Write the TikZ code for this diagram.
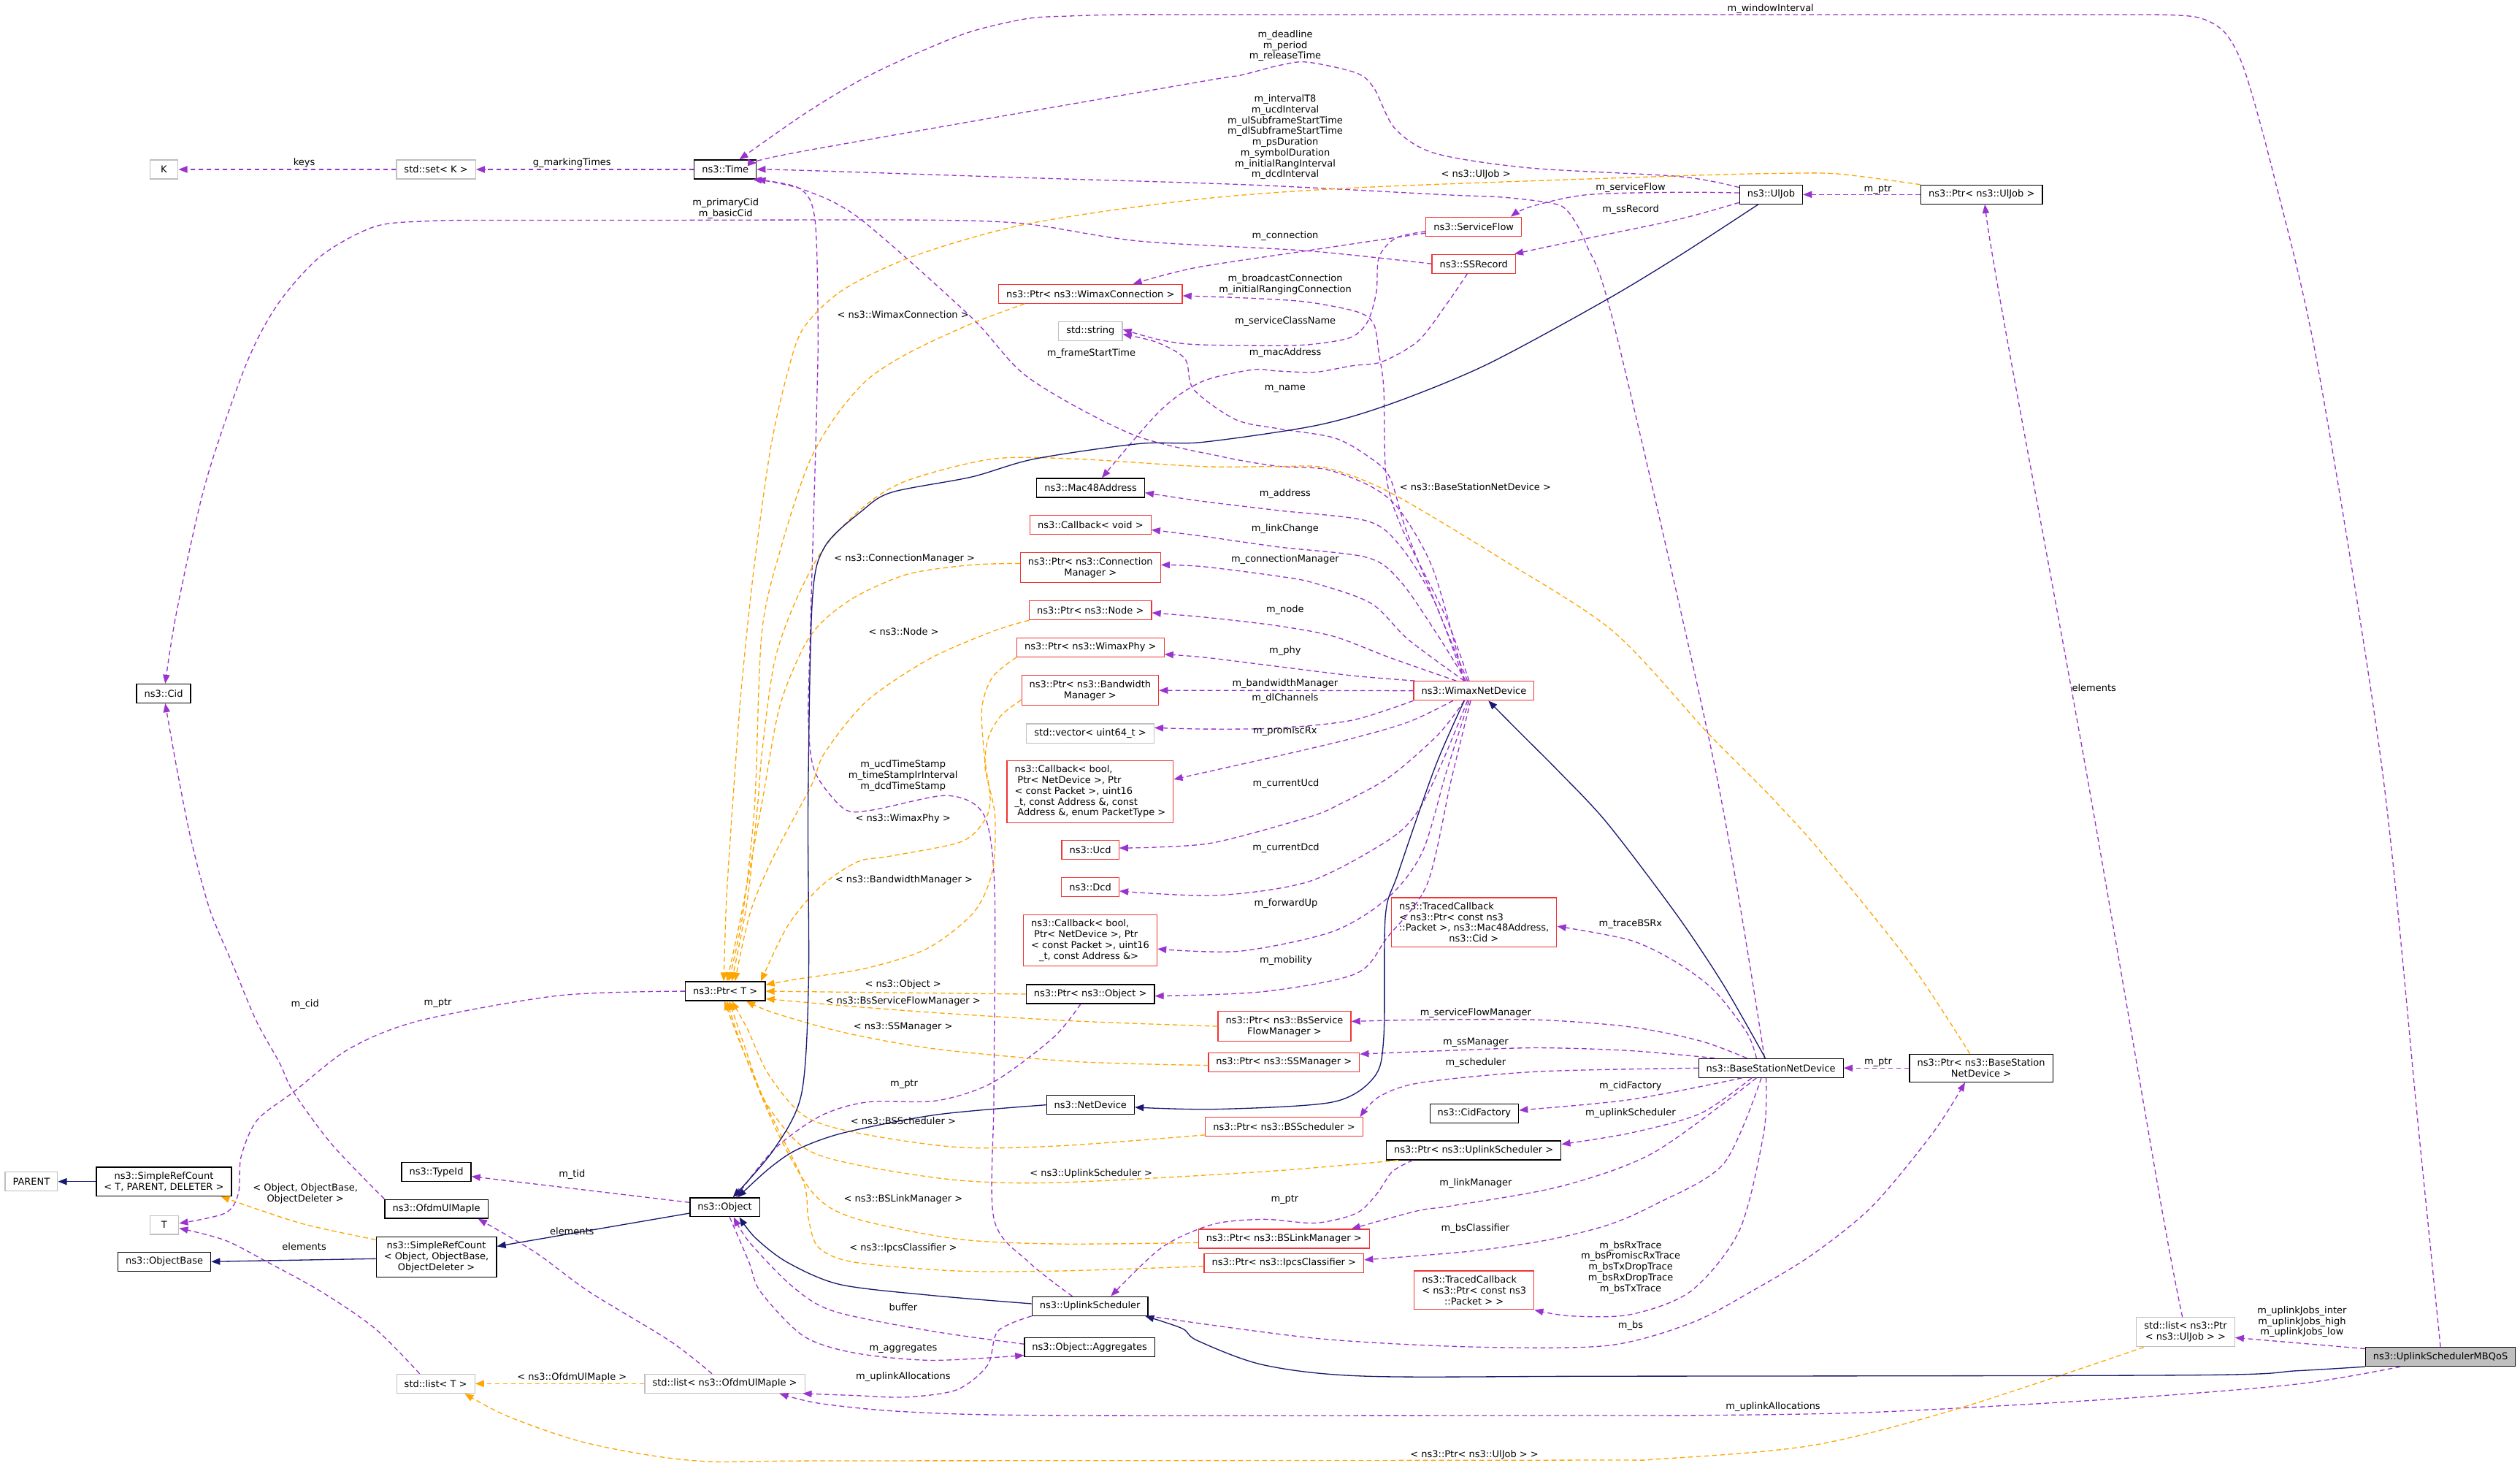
\documentclass[tikz,border=0pt]{standalone}
\usepackage{fontspec}
\setmainfont{DejaVu Sans}
\usetikzlibrary{arrows.meta}

\definecolor{edgepurple}{HTML}{9A32CD}
\definecolor{edgeorange}{HTML}{FFA500}
\definecolor{edgenavy}{HTML}{191970}
\definecolor{boxred}{HTML}{F23333}
\definecolor{boxgray}{HTML}{BFBFBF}

\newcommand{\dxfont}{\fontsize{5.9}{6.7}\selectfont}

\tikzset{
  cls/.style={draw=black, line width=0.55pt, fill=white, rectangle, inner xsep=4.8pt, inner ysep=3pt, minimum height=11.8pt, align=center, font=\dxfont},
  clsred/.style={cls, draw=boxred},
  clsgray/.style={cls, draw=boxgray},
  clsmain/.style={cls, fill=boxgray},
  edgelabel/.style={inner sep=0pt, align=center, font=\dxfont},
  memberedge/.style={draw=edgepurple, line width=0.6pt, dash pattern=on 3pt off 2pt, -{Triangle[length=5.5pt,width=4.2pt]}},
  tmpledge/.style={draw=edgeorange, line width=0.6pt, dash pattern=on 3pt off 2pt, -{Triangle[length=5.5pt,width=4.2pt]}},
  inheritedge/.style={draw=edgenavy, line width=0.6pt, -{Triangle[length=5.5pt,width=4.2pt]}},
}

\begin{document}
\begin{tikzpicture}[x=1pt,y=-1pt]
	\useasboundingbox (0,0) rectangle (1568,910);

	% Class nodes
	\node[clsgray, minimum width=17.6pt] (k) at (102,105.4) {K};
	\node[clsgray] (stdsetk) at (271.3,105.4) {std::set< K >};
	\node[cls] (time) at (451.3,105.4) {ns3::Time};
	\node[cls] (uljob) at (1102,121) {ns3::UlJob};
	\node[cls] (ptruljob) at (1233,121) {ns3::Ptr< ns3::UlJob >};
	\node[clsred] (serviceflow) at (917,141) {ns3::ServiceFlow};
	\node[clsred] (ssrecord) at (917,164.1) {ns3::SSRecord};
	\node[clsred] (ptrwimaxconn) at (678.5,182.8) {ns3::Ptr< ns3::WimaxConnection >};
	\node[clsgray] (stdstring) at (678.5,205.9) {std::string};
	\node[cls] (mac48) at (678.6,303.5) {ns3::Mac48Address};
	\node[clsred] (cbvoid) at (678.5,326.6) {ns3::Callback< void >};
	\node[clsred] (ptrconnmgr) at (678.5,353.1) {ns3::Ptr< ns3::Connection\\Manager >};
	\node[clsred] (ptrnode) at (678.5,379.7) {ns3::Ptr< ns3::Node >};
	\node[clsred] (ptrwimaxphy) at (678.5,402.7) {ns3::Ptr< ns3::WimaxPhy >};
	\node[clsred] (ptrbwmgr) at (678.3,429.4) {ns3::Ptr< ns3::Bandwidth\\Manager >};
	\node[clsgray] (stdvector) at (678.4,456.2) {std::vector< uint64\_t >};
	\node[clsred, align=left] (cbpromisc) at (678.3,492.4) {ns3::Callback< bool,\\\hspace*{1.8pt}Ptr< NetDevice >, Ptr\\< const Packet >, uint16\\\_t, const Address \&, const\\\hspace*{1.8pt}Address \&, enum PacketType >};
	\node[clsred] (ucd) at (678.4,528.8) {ns3::Ucd};
	\node[clsred] (dcd) at (678.4,551.7) {ns3::Dcd};
	\node[clsred, align=left] (cbforward) at (678.4,585) {ns3::Callback< bool,\\\hspace*{1.8pt}Ptr< NetDevice >, Ptr\\< const Packet >, uint16\\\hspace*{4.9pt}\_t, const Address \&>};
	\node[cls] (ptrobject) at (678.4,618.4) {ns3::Ptr< ns3::Object >};
	\node[clsred] (ptrbssfm) at (799.2,638.4) {ns3::Ptr< ns3::BsService\\FlowManager >};
	\node[clsred] (ptrssmgr) at (798.9,660.7) {ns3::Ptr< ns3::SSManager >};
	\node[cls] (netdevice) at (678.5,687.3) {ns3::NetDevice};
	\node[clsred] (ptrbssched) at (799,701) {ns3::Ptr< ns3::BSScheduler >};
	\node[clsred] (ptrbslink) at (798.9,770.6) {ns3::Ptr< ns3::BSLinkManager >};
	\node[clsred] (ptripcs) at (798.9,785.7) {ns3::Ptr< ns3::IpcsClassifier >};
	\node[cls] (ulsched) at (678.2,812.5) {ns3::UplinkScheduler};
	\node[cls] (aggregates) at (678,838.1) {ns3::Object::Aggregates};
	\node[clsred] (wimaxnd) at (917.1,429.7) {ns3::WimaxNetDevice};
	\node[clsred, align=left] (tracedbsrx) at (917.2,573.7) {ns3::TracedCallback\\< ns3::Ptr< const ns3\\::Packet >, ns3::Mac48Address,\\\hspace*{31pt}ns3::Cid >};
	\node[cls] (bsnd) at (1101.9,664.4) {ns3::BaseStationNetDevice};
	\node[cls] (ptrbsnd) at (1232.7,664.4) {ns3::Ptr< ns3::BaseStation\\NetDevice >};
	\node[cls] (cidfactory) at (917.3,692.5) {ns3::CidFactory};
	\node[cls] (ptrulsched) at (917,715.6) {ns3::Ptr< ns3::UplinkScheduler >};
	\node[clsred, align=left] (tracedpkt) at (917.2,802.6) {ns3::TracedCallback\\< ns3::Ptr< const ns3\\\hspace*{14pt}::Packet > >};
	\node[clsgray] (listptruljob) at (1359.9,828.6) {std::list< ns3::Ptr\\< ns3::UlJob > >};
	\node[clsmain] (mbqos) at (1518.5,844) {ns3::UplinkSchedulerMBQoS};
	\node[cls] (ptrt) at (451.3,616.6) {ns3::Ptr< T >};
	\node[cls] (cid) at (101.8,431.4) {ns3::Cid};
	\node[cls] (srcparent) at (102,735) {ns3::SimpleRefCount\\< T, PARENT, DELETER >};
	\node[clsgray] (parent) at (19.5,735) {PARENT};
	\node[clsgray, minimum width=18pt] (tnode) at (102.2,762) {T};
	\node[cls] (objectbase) at (102.3,784.8) {ns3::ObjectBase};
	\node[cls] (typeid) at (271.5,729) {ns3::TypeId};
	\node[cls] (ofdmulmapie) at (271.5,752) {ns3::OfdmUlMapIe};
	\node[cls] (srcobject) at (271.5,782) {ns3::SimpleRefCount\\< Object, ObjectBase,\\ObjectDeleter >};
	\node[cls] (object) at (451,751) {ns3::Object};
	\node[clsgray] (listt) at (271.1,860.7) {std::list< T >};
	\node[clsgray] (listofdm) at (451,860.7) {std::list< ns3::OfdmUlMapIe >};

	% Member edges
	\draw[memberedge] (stdsetk) -- (k);
	\draw[memberedge] (time) -- (stdsetk);
	\draw[memberedge] plot[smooth] coordinates {(mbqos.north) (1505,704) (1482,477) (1442,227) (1415,110) (1397,45) (1385,21) (1370,11.5) (1350,9.3) (1310,9.1) (1250,9.1) (1100,9.1) (900,9.1) (760,9.1) (700,9.1) (665,10) (639,11.6) (604,19.7) (570,33.3) (535,50) (500,71.2) ([xshift=8.7pt]time.north)};
	\draw[memberedge] plot[smooth] coordinates {([yshift=4.4pt]uljob.west) (1045,109.8) (952,104.5) (893,95.4) (868,80) (855,55) (844,45.4) (813,38.6) (795,40.9) (771,47) (743,51.5) (500,94) ([yshift=4pt]time.east)};
	\draw[memberedge] plot[smooth] coordinates {([xshift=-4pt]bsnd.north) (1067,477) (1005,205) (987,152) (976,132) (966,126.5) (935,122.7) (900,121.2) (778,115) (639,110.6) (500,106) (time.east)};
	\draw[memberedge] plot[smooth] coordinates {([xshift=-6pt]wimaxnd.north) (892,355) (871,317.5) (853,302.6) (825,292) (795,290) (760,284) (704,270) (640,235) (604,197) (535,136) (500,118) (time.south east)};
	\draw[memberedge] plot[smooth] coordinates {([xshift=-11pt]ulsched.north) (640,785) (618.4,758) (618.4,682) (619,559) (615,515) (606,500) (586,495) (542,504) (525,503) (507,480) (503,449) (504,400) (506,330) (508,260) (509,205) (507,136) (497,117) ([xshift=-2.5pt]time.south east)};
	\draw[memberedge] plot[smooth] coordinates {([yshift=1pt]uljob.west) (1045,119.6) (987,121.2) (952,128.7) ([xshift=23pt]serviceflow.north)};
	\draw[memberedge] plot[smooth] coordinates {([yshift=-5pt]uljob.west) (1045,136.3) (987,148.4) ([xshift=-1pt]ssrecord.north east)};
	\draw[memberedge] (ptruljob) -- (uljob);
	\draw[memberedge] plot[smooth] coordinates {(ssrecord.west) (813,156) (709,150) (639,139.3) (587,137) (500,136.8) (400,137) (300,137) (266.6,137.5) (233.3,140.9) (200,159) (173,189) (153,227) (128,300) (110,380) ([xshift=1pt]cid.north)};
	\draw[memberedge] plot[smooth] coordinates {([yshift=-4pt]serviceflow.west) (813,156) (743.4,166.6) ([xshift=26.5pt]ptrwimaxconn.north)};
	\draw[memberedge] plot[smooth] coordinates {([yshift=-3pt]serviceflow.west) (868.6,148) (858,160) (856.4,181.7) (851,200) (840.7,209.8) (818,214) (795.5,215) (743.4,214.3) (720,211) ([yshift=1pt]stdstring.east)};
	\draw[memberedge] plot[smooth] coordinates {([xshift=-3pt]wimaxnd.north) (899.4,383.4) (871.6,327) (862.4,295) (861,242) (858,220) (854.7,201.4) (844.2,193.9) (812.9,187.8) (778,185.5) ([yshift=-1.2pt]ptrwimaxconn.east)};
	\draw[memberedge] plot[smooth] coordinates {([xshift=-4pt]wimaxnd.north) (895,380) (875,330) (864.6,296.7) (850.7,283.5) (829.9,272.3) (795.1,266.6) (768.8,261) (742.7,242.2) (737.4,223.3) (720,213) ([yshift=-2pt]stdstring.east)};
	\draw[memberedge] plot[smooth] coordinates {([xshift=-4pt]ssrecord.south) (900,189.3) (882.5,212) (860,225) (841.5,227.5) (818.3,231.5) (795,230.8) (779.2,230) (747.9,237.4) (721.9,255.4) ([xshift=7pt]mac48.north)};
	\draw[memberedge] plot[smooth] coordinates {([xshift=-6pt]wimaxnd.north) (892.5,374) (871.6,340.1) (850.7,324.1) (795.1,317.5) (747.9,311.8) ([yshift=-3pt]mac48.east)};
	\draw[memberedge] plot[smooth] coordinates {([xshift=-5pt]wimaxnd.north) (895,395.8) (871.6,361.9) (850.7,346.8) (795.1,340.2) (747.9,333.5) ([yshift=-3pt]cbvoid.east)};
	\draw[memberedge] plot[smooth] coordinates {([xshift=-6pt]wimaxnd.north) (876.3,397.9) (853.1,375.3) (817.8,362.7) (795.1,358.4) (747.9,352.4) ([yshift=1.7pt]ptrconnmgr.east)};
	\draw[memberedge] plot[smooth] coordinates {([xshift=-11pt]wimaxnd.north) (864.6,409) (829.9,395.9) (795.1,389.3) (750,384) ([yshift=-1.5pt]ptrnode.east)};
	\draw[memberedge] plot[smooth] coordinates {([xshift=1pt]wimaxnd.north west) (841.5,420.3) (795.1,414.6) (750,409) ([yshift=-4.3pt]ptrwimaxphy.east)};
	\draw[memberedge] (wimaxnd) -- (ptrbwmgr);
	\draw[memberedge] plot[smooth] coordinates {(wimaxnd.south west) (841.5,448) (795.1,452.9) (750,453.5) ([yshift=3.5pt]stdvector.east)};
	\draw[memberedge] plot[smooth] coordinates {([xshift=-13pt]wimaxnd.south) (876.7,449) (841.5,459.3) (795.1,470.3) (763,477.5) ([yshift=7.6pt]cbpromisc.east)};
	\draw[memberedge] plot[smooth] coordinates {([xshift=-6pt]wimaxnd.south) (894.8,457) (864.6,483.3) (834.5,499.8) (814.6,508.2) (756.6,523.9) (720,527) ([yshift=1.3pt]ucd.east)};
	\draw[memberedge] plot[smooth] coordinates {([xshift=-4pt]wimaxnd.south) (897,475) (882,505) (863.3,523) (814.6,548.3) (756.6,557) ([yshift=-2.6pt]dcd.east)};
	\draw[memberedge] plot[smooth] coordinates {([xshift=-3pt]wimaxnd.south) (900,480) (885,530) (863.3,558.7) (829.1,579.5) (771.2,591.7) ([yshift=-5.3pt]cbforward.east)};
	\draw[memberedge] plot[smooth] coordinates {([xshift=-2pt]wimaxnd.south) (903,485) (888,550) (863.3,583) (843.6,605.7) (785.6,616.9) ([yshift=-1.2pt]ptrobject.east)};
	\draw[memberedge] plot[smooth] coordinates {([xshift=-6pt]ptrobject.south) (655.2,645.6) (617.6,673.4) (582.8,684.7) (539.3,685.6) (510.3,694.3) (481.4,715.2) ([xshift=7pt]object.north)};
	\draw[memberedge] ([yshift=3pt]object.west) -- ([yshift=-2.8pt]typeid.east);
	\draw[memberedge] plot[smooth] coordinates {([yshift=2pt]aggregates.west) (579.5,828) (518.9,815.7) (493.2,800.4) (466.5,773) ([xshift=5.5pt]object.south)};
	\draw[memberedge] plot[smooth] coordinates {([xshift=3pt]object.south) (466,785) (473.2,803.5) (499.8,831) (531.7,841.6) (579.5,846.2) ([yshift=-5pt]aggregates.west)};
	\draw[memberedge] plot[smooth] coordinates {(ulsched.south west) (620.9,828) (614.5,849.2) (595.4,864.5) (563.6,869.1) (530,868) ([xshift=-1.5pt]listofdm.south east)};
	\draw[memberedge] plot[smooth] coordinates {([xshift=-25pt]mbqos.south) (1429.3,861) (1316.2,870.2) (1165.4,878.5) (1052.3,880.5) (999.6,880.5) (659.2,880.5) (563.6,878.2) (510,873) ([xshift=34pt]listofdm.south)};
	\draw[memberedge] ([yshift=5pt]mbqos.west) -- ([yshift=-3.5pt]listptruljob.east);
	\draw[memberedge] plot[smooth] coordinates {([xshift=-2pt]listptruljob.north) (1344.7,749.7) (1297.6,477) (1251.8,227.2) (1238.5,151.5) ([xshift=2pt]ptruljob.south)};
	\draw[memberedge] (ptrbsnd) -- (bsnd);
	\draw[memberedge] plot[smooth] coordinates {([xshift=-9pt]bsnd.north) (1086.9,642.3) (1066.6,616.2) (1043.4,598.8) (1014.5,584.9) ([yshift=-2.5pt]tracedbsrx.east)};
	\draw[memberedge] plot[smooth] coordinates {([xshift=-15pt]bsnd.north) (1057.9,647.5) (1014.5,638.8) (956.5,634.4) (884,634.4) ([yshift=3pt]ptrbssfm.east)};
	\draw[memberedge] plot[smooth] coordinates {([xshift=-35pt]bsnd.north) (1014.5,653.6) (956.5,651.8) (898.6,653.6) ([yshift=5pt]ptrssmgr.east)};
	\draw[memberedge] plot[smooth] coordinates {(bsnd.west) (956.5,666.6) (884,673.5) (858,682.3) ([xshift=-2pt]ptrbssched.north east)};
	\draw[memberedge] plot[smooth] coordinates {([xshift=-18pt]bsnd.south) (1014.5,684) ([yshift=1.9pt]cidfactory.east)};
	\draw[memberedge] plot[smooth] coordinates {([xshift=-12pt]bsnd.south) (1057.9,692.7) (1014.5,704.8) ([yshift=3.8pt]ptrulsched.east)};
	\draw[memberedge] plot[smooth] coordinates {([xshift=-9pt]bsnd.south) (1028.9,717) (971,738) (904,750) (882,753.2) ([xshift=42pt]ptrbslink.north)};
	\draw[memberedge] plot[smooth] coordinates {([xshift=-6pt]bsnd.south) (1072.4,724) (1028.9,749.7) (999.6,762.3) (962,771.5) (914.2,778.4) ([yshift=2pt]ptripcs.east)};
	\draw[memberedge] plot[smooth] coordinates {([xshift=-3pt]bsnd.south) (1097.5,704.3) (1082.4,765.1) (1052.3,803) (1014.6,817.7) (976.9,818.6) (tracedpkt.south east)};
	\draw[memberedge] plot[smooth] coordinates {(ulsched.south east) (818.5,832.5) (914.2,837.8) (999.6,837.1) (1052.2,823) (1090,803.2) (1127.7,780.4) (1165.4,749.9) (1203,704.3) ([xshift=-10pt]ptrbsnd.south)};
	\draw[memberedge] plot[smooth] coordinates {([xshift=-38pt]ptrulsched.south) (866.3,728.8) (856.8,742.5) (844,754.7) (818.5,760.8) (786.7,758.5) (754.8,761.6) (722.9,776) ([xshift=13pt]ulsched.north)};
	\draw[memberedge] plot[smooth] coordinates {(ptrt.west) (347.7,619.3) (260.8,635) (217.3,652.4) (182.6,679.3) (160,696.8) (150,719.6) (148.3,742.5) (140,754.7) ([yshift=1pt]tnode.east)};
	\draw[memberedge] plot[smooth] coordinates {(ofdmulmapie.north west) (206.6,712) (182.6,679.3) (173.9,661.1) (159.4,634.9) (144.9,600.2) (130.4,565.4) (118.8,522) (110.1,478.5) ([xshift=1pt]cid.south)};
	\draw[memberedge] plot[smooth] coordinates {([xshift=-10pt]listt.north) (233.3,826.4) (199.9,803.5) (166.6,785.2) (140,771.5) ([yshift=-2pt]tnode.east)};
	\draw[memberedge] plot[smooth] coordinates {([xshift=-8pt]listofdm.north) (416.6,834) (366.5,803.5) (333.2,779.1) ([xshift=26pt]ofdmulmapie.south)};

	% Template edges
	\draw[tmpledge] plot[smooth] coordinates {([yshift=-2pt]srcobject.north west) (186.6,760.8) ([xshift=-7pt]srcparent.south east)};
	\draw[tmpledge] (listofdm) -- (listt);
	\draw[tmpledge] plot[smooth] coordinates {([xshift=-26pt]listptruljob.south) (1218.2,876.3) (1127.7,899.1) (1033.4,907.5) (976.9,908.3) (522.5,908.7) (433.2,908.7) (366.5,898) (316.6,881.3) ([xshift=18pt]listt.south)};
	\draw[tmpledge] plot[smooth] coordinates {(ptruljob.north west) (1145,108.3) (1111.7,107.8) (1045,109.4) (847.7,116.6) (743.4,124.2) (639.1,139.3) (569.5,159) (525,180) (500,204) (489.8,232.7) (479.3,279.8) (468.9,355.2) (461.1,430.5) (455.9,499.8) (452,560) ([xshift=-1pt]ptrt.north)};
	\draw[tmpledge] plot[smooth] coordinates {([xshift=-41pt]ptrwimaxconn.south) (604.3,201.4) (565.4,219.5) (539.3,236.5) (518.5,261) (502.8,289.2) (487.2,336.3) (474.1,392.8) (469.6,499.8) (462,570) ([xshift=2pt]ptrt.north)};
	\draw[tmpledge] plot[smooth] coordinates {([xshift=-7pt]ptrbsnd.north) (1188.3,598.8) (1133,530) (1105.8,499.8) (1090.5,484) (1061.7,455) (1003.8,392.8) (934.2,347.6) (864.6,306.2) (825.2,291.1) (795.1,290.2) (747.9,290.2) (669.7,285.5) (617.6,285.5) (565.4,298.6) (539.3,313.7) (513.2,340.1) (495,374) (481.9,411.6) (474.1,468.2) (471.5,499.8) (465,560) ([xshift=4pt]ptrt.north)};
	\draw[tmpledge] plot[smooth] coordinates {([yshift=2.6pt]ptrconnmgr.west) (604.5,351.4) (565.4,357) (534.1,370.2) (513.2,385.3) (500.2,402.2) (485,440) (474,500) (461,570) ([xshift=1pt]ptrt.north)};
	\draw[tmpledge] plot[smooth] coordinates {(ptrnode.south west) (617.6,392.8) (578.4,409.8) (539.3,436.1) (513.2,468.2) (504.6,489.1) (481.4,532.6) (466.9,567.4) ([xshift=6pt]ptrt.north)};
	\draw[tmpledge] plot[smooth] coordinates {(ptrwimaxphy.south west) (617.6,421.1) (611,439.9) (612.3,468.2) (616.1,497.8) (611.7,511.7) (597.3,523.9) (553.8,532.6) (533.5,536.1) (510.3,551.7) (490,576.1) ([xshift=-3pt]ptrt.north east)};
	\draw[tmpledge] plot[smooth] coordinates {([yshift=-6pt]ptrbwmgr.west) (622.8,445.2) (615,458.8) (613,478) (619,506.5) (617.6,541.3) (606,567.4) (577,590) (539.3,602.2) (495.8,609.1) ([yshift=4pt]ptrt.east)};
	\draw[tmpledge] (ptrobject.west) -- (ptrt.east);
	\draw[tmpledge] plot[smooth] coordinates {(ptrbssfm.west) (669.7,635.2) (582.8,630) (524.8,625.6) ([yshift=-4.7pt]ptrt.east)};
	\draw[tmpledge] plot[smooth] coordinates {([yshift=-2pt]ptrssmgr.west) (669.7,660.4) (582.8,652.6) (524.8,642.2) (481.4,630) ([xshift=13pt]ptrt.south)};
	\draw[tmpledge] plot[smooth] coordinates {([yshift=-5pt]ptrbssched.west) (659.2,712.8) (595.4,713.6) (531.7,704.4) (499.8,693.7) (478,668) (465,640) ([xshift=4pt]ptrt.south)};
	\draw[tmpledge] plot[smooth] coordinates {([xshift=-47pt]ptrulsched.south) (786.7,728.8) (659.2,735.6) (595.4,734.1) (531.7,724.3) (499.8,713.6) (476,685) (463,650) ([xshift=2.5pt]ptrt.south)};
	\draw[tmpledge] plot[smooth] coordinates {([yshift=-2.4pt]ptrbslink.west) (659.2,773.8) (595.4,770.7) (531.7,757.8) (506.2,742.5) (484,705) (463,655) ([xshift=1pt]ptrt.south)};
	\draw[tmpledge] plot[smooth] coordinates {([yshift=-2pt]ptripcs.west) (659.2,790.6) (595.4,790.6) (531.7,785.2) (509.3,776) (503,757.8) (499.8,734.9) (478,690) (461,650) ([xshift=-0.5pt]ptrt.south)};

	% Inheritance edges
	\draw[inheritedge] plot[smooth] coordinates {(netdevice.west) (582.8,693.4) (524.8,704.7) (495.8,715.2) (478.4,727) ([xshift=8pt]object.north)};
	\draw[inheritedge] plot[smooth] coordinates {([xshift=-8pt]uljob.south) (1045,159) (997.2,187.8) (924.2,227.2) (864.6,251.5) (818.3,264.8) (747.9,275.1) (708.8,276) (643.6,285.5) (604.5,296.7) (555,306.2) (536.7,317.5) (513.2,340.1) (505.4,374) (502.8,499.8) (503.1,610.8) (498.7,680.4) (481.4,715.2) ([xshift=5pt]object.north)};
	\draw[inheritedge] plot[smooth] coordinates {([yshift=1.5pt]ulsched.west) (579.5,805.8) (522.5,799) (489.8,785.2) (470,770) ([xshift=9pt]object.south)};
	\draw[inheritedge] plot[smooth] coordinates {(mbqos.south west) (1429.3,852.7) (1365.2,855.4) (999.6,856.1) (850.4,856.1) (786.7,849.2) (745.2,834) (735.6,826.4) ([xshift=-2pt]ulsched.south east)};
	\draw[inheritedge] plot[smooth] coordinates {([xshift=-6pt]wimaxnd.south) (893,477) (870,543) (862,570) (861,645) (855,670) (829,685.6) (756.6,690) ([yshift=-1.5pt]netdevice.east)};
	\draw[inheritedge] plot[smooth] coordinates {([xshift=-3.5pt]bsnd.north) (1072.4,612.7) (1043.4,569.2) (1000,512) (970,480) (945,455) ([xshift=9pt]wimaxnd.south)};
	\draw[inheritedge] ([yshift=-3.7pt]object.west) -- ([yshift=6.7pt]srcobject.east);
	\draw[inheritedge] ([yshift=-1pt]srcobject.west) -- (objectbase.east);
	\draw[inheritedge] (srcparent.west) -- (parent.east);

	% Edge labels
	\node[edgelabel] (lkeys) at (189.3,101.5) {keys};
	\node[edgelabel] (lmarking) at (355.9,101.5) {g\_markingTimes};
	\node[edgelabel] (lwindow) at (1101.7,5.3) {m\_windowInterval};
	\node[edgelabel] (ldeadline) at (799.7,28.5) {m\_deadline\\m\_period\\m\_releaseTime};
	\node[edgelabel] (linterval) at (799.7,85.4) {m\_intervalT8\\m\_ucdInterval\\m\_ulSubframeStartTime\\m\_dlSubframeStartTime\\m\_psDuration\\m\_symbolDuration\\m\_initialRangInterval\\m\_dcdInterval};
	\node[edgelabel] (tuljob) at (918.3,108.7) {< ns3::UlJob >};
	\node[edgelabel] (lserviceflow) at (1014.6,116.6) {m\_serviceFlow};
	\node[edgelabel] (lssrecord) at (1014.6,130.6) {m\_ssRecord};
	\node[edgelabel] (lptruljob) at (1168.4,117.8) {m\_ptr};
	\node[edgelabel] (lcidpair) at (451.5,129.8) {m\_primaryCid\\m\_basicCid};
	\node[edgelabel] (lconnection) at (799.7,146.6) {m\_connection};
	\node[edgelabel] (lbroadcast) at (799.7,177) {m\_broadcastConnection\\m\_initialRangingConnection};
	\node[edgelabel] (twimaxconn) at (561.9,195.7) {< ns3::WimaxConnection >};
	\node[edgelabel] (lclassname) at (799.7,200) {m\_serviceClassName};
	\node[edgelabel] (lframestart) at (679,220) {m\_frameStartTime};
	\node[edgelabel] (lmacaddr) at (799.7,219.6) {m\_macAddress};
	\node[edgelabel] (lname) at (799.6,242.1) {m\_name};
	\node[edgelabel] (tbsnd) at (918,302.8) {< ns3::BaseStationNetDevice >};
	\node[edgelabel] (laddress) at (799.6,307.2) {m\_address};
	\node[edgelabel] (llinkchange) at (799.6,328.8) {m\_linkChange};
	\node[edgelabel] (tconnmgr) at (562.8,347.6) {< ns3::ConnectionManager >};
	\node[edgelabel] (lconnmgr) at (799.6,348.2) {m\_connectionManager};
	\node[edgelabel] (lnode) at (799.6,379.3) {m\_node};
	\node[edgelabel] (tnodetmpl) at (562.3,392.8) {< ns3::Node >};
	\node[edgelabel] (lphy) at (799.6,405.1) {m\_phy};
	\node[edgelabel] (lbwmgr) at (799.6,425.4) {m\_bandwidthManager};
	\node[edgelabel] (ldlchannels) at (799.6,434.6) {m\_dlChannels};
	\node[edgelabel] (lpromisc) at (799.6,455) {m\_promiscRx};
	\node[edgelabel] (lucd) at (800.1,487.4) {m\_currentUcd};
	\node[edgelabel] (ltimestamp) at (561.9,482.6) {m\_ucdTimeStamp\\m\_timeStampIrInterval\\m\_dcdTimeStamp};
	\node[edgelabel] (twimaxphy) at (561.9,509.2) {< ns3::WimaxPhy >};
	\node[edgelabel] (ldcd) at (800.1,527.4) {m\_currentDcd};
	\node[edgelabel] (tbwmgr) at (562.5,547.4) {< ns3::BandwidthManager >};
	\node[edgelabel] (lforward) at (800.1,562.2) {m\_forwardUp};
	\node[edgelabel] (lmobility) at (800.1,597.3) {m\_mobility};
	\node[edgelabel] (tobject) at (561.9,612.6) {< ns3::Object >};
	\node[edgelabel] (tbssfm) at (561.9,623) {< ns3::BsServiceFlowManager >};
	\node[edgelabel] (tssmgr) at (561.9,639) {< ns3::SSManager >};
	\node[edgelabel] (lptrobject) at (562.5,674.3) {m\_ptr};
	\node[edgelabel] (ltracebsrx) at (1014.5,574.8) {m\_traceBSRx};
	\node[edgelabel] (lsfmgr) at (918.2,630.1) {m\_serviceFlowManager};
	\node[edgelabel] (lssmgr) at (918.2,648.4) {m\_ssManager};
	\node[edgelabel] (lscheduler) at (918.2,661) {m\_scheduler};
	\node[edgelabel] (lptrbsnd) at (1168.6,661) {m\_ptr};
	\node[edgelabel] (lcidfactory) at (1014.5,675.8) {m\_cidFactory};
	\node[edgelabel] (lulsched) at (1014.5,692.7) {m\_uplinkScheduler};
	\node[edgelabel] (tbssched) at (562,697.3) {< ns3::BSScheduler >};
	\node[edgelabel] (tulsched) at (678.9,730.3) {< ns3::UplinkScheduler >};
	\node[edgelabel] (llinkmgr) at (918.2,736.2) {m\_linkManager};
	\node[edgelabel] (lptrulsched) at (799.4,746.3) {m\_ptr};
	\node[edgelabel] (tbslink) at (562,745.9) {< ns3::BSLinkManager >};
	\node[edgelabel] (lclassifier) at (918,764.2) {m\_bsClassifier};
	\node[edgelabel] (tipcs) at (562,776.4) {< ns3::IpcsClassifier >};
	\node[edgelabel] (ltraces) at (1014.6,788.4) {m\_bsRxTrace\\m\_bsPromiscRxTrace\\m\_bsTxDropTrace\\m\_bsRxDropTrace\\m\_bsTxTrace};
	\node[edgelabel] (lbuffer) at (562,813.1) {buffer};
	\node[edgelabel] (lbs) at (1014.6,824.5) {m\_bs};
	\node[edgelabel] (laggregates) at (562,838.8) {m\_aggregates};
	\node[edgelabel] (lallocsched) at (562,856.5) {m\_uplinkAllocations};
	\node[edgelabel] (lallocmbqos) at (1103.2,875.2) {m\_uplinkAllocations};
	\node[edgelabel] (tptruljob) at (917.4,904.9) {< ns3::Ptr< ns3::UlJob > >};
	\node[edgelabel] (ljobs) at (1432.3,822.2) {m\_uplinkJobs\_inter\\m\_uplinkJobs\_high\\m\_uplinkJobs\_low};
	\node[edgelabel] (lelemjobs) at (1303,428) {elements};
	\node[edgelabel] (lcid) at (189.8,625) {m\_cid};
	\node[edgelabel] (lptrt) at (272.4,624) {m\_ptr};
	\node[edgelabel] (tsrcobject) at (190,742.7) {< Object, ObjectBase,\\ObjectDeleter >};
	\node[edgelabel] (ltid) at (355.9,730.6) {m\_tid};
	\node[edgelabel] (lelemofdm) at (355.9,766.1) {elements};
	\node[edgelabel] (lelemt) at (189.3,775.3) {elements};
	\node[edgelabel] (tofdm) at (355.9,856.9) {< ns3::OfdmUlMapIe >};

\end{tikzpicture}
\end{document}
